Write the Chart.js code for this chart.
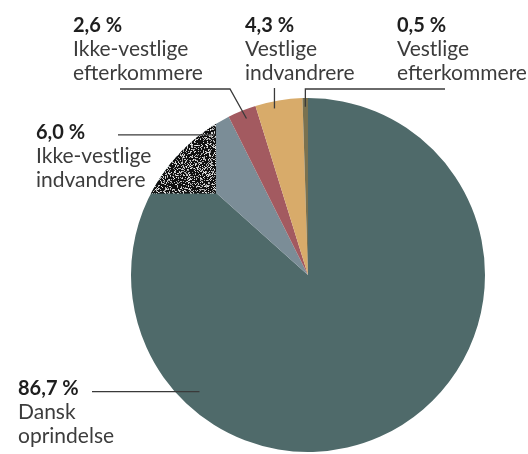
<!DOCTYPE html>
<html>
<head>
<meta charset="utf-8">
<script src="https://cdn.jsdelivr.net/npm/chart.js@4/dist/chart.umd.min.js"></script>
<style>
  body { margin: 0; background: #fff; }
  #wrap { width: 528px; height: 454px; }
</style>
</head>
<body>
<div id="wrap"><canvas id="chart" width="528" height="454"></canvas></div>
<script>
// andele af befolkningen, med uret fra toppen
const groups = ['Dansk oprindelse', 'Ikke-vestlige indvandrere', 'Ikke-vestlige efterkommere', 'Vestlige indvandrere', 'Vestlige efterkommere'];
const shares = [86.7, 6.0, 2.6, 4.3, 0.5];
const shareText = ['86,7 %', '6,0 %', '2,6 %', '4,3 %', '0,5 %'];
const labelLines = [
    ['Dansk', 'oprindelse'],
    ['Ikke-vestlige', 'indvandrere'],
    ['Ikke-vestlige', 'efterkommere'],
    ['Vestlige', 'indvandrere'],
    ['Vestlige', 'efterkommere']
];
const colors = ['#4f6a6a', '#7b8d97', '#a35a60', '#d8ab6a', '#7a7250'];

// placering af tekster og streger (layout, ikke data)
const labelPos = [
    {x: 18, y: 395},
    {x: 36, y: 139},
    {x: 73, y: 32},
    {x: 245, y: 32},
    {x: 397, y: 32}
];
// frac = hvor i skiven stregen ender, rf = andel af radius
const leaders = [
    {frac: 0.715, rf: 0.9, path: e => [[92, e.y], [e.x, e.y]]},
    {frac: 0.68, rf: 0.95, path: e => [[118, e.y], [e.x, e.y]]},
    {frac: 0.55, rf: 0.95, path: e => [[120, 89], [230, 89], [e.x, e.y]]},
    {frac: 0.38, rf: 0.96, path: e => [[e.x, 88], [e.x, e.y]]},
    {frac: 0.5, rf: 0.95, path: e => [[445, 89], [e.x, 89], [e.x, e.y]]}
];

function makeStipple() {
    const c = document.createElement('canvas');
    c.width = 64; c.height = 64;
    const g = c.getContext('2d');
    g.fillStyle = '#111';
    g.fillRect(0, 0, 64, 64);
    for (let i = 0; i < 64; i++) {
        for (let j = 0; j < 64; j++) {
            const h = Math.sin(i * 12.9898 + j * 78.233) * 43758.5453;
            const f = h - Math.floor(h);
            if (f > 0.66) {
                const v = Math.round(140 + (f - 0.66) * 300);
                g.fillStyle = `rgb(${v},${v},${v})`;
                g.fillRect(i, j, 1, 1);
            }
        }
    }
    return c;
}

const stipplePlugin = {
    id: 'stipple',
    afterDatasetsDraw(chart) {
        const arc = chart.getDatasetMeta(0).data[0];
        const {x, y, outerRadius: r} = arc;
        const ctx = chart.ctx;
        ctx.save();
        ctx.beginPath();
        ctx.arc(x, y, r, 0, Math.PI * 2);
        ctx.clip();
        ctx.fillStyle = ctx.createPattern(makeStipple(), 'repeat');
        ctx.fillRect(x - r, y - r, r * 0.48, r * 0.54);
        ctx.restore();
    }
};

const labelPlugin = {
    id: 'leaderLabels',
    afterDraw(chart) {
        const ctx = chart.ctx;
        const arcs = chart.getDatasetMeta(0).data;
        ctx.save();
        arcs.forEach((arc, i) => {
            const L = leaders[i];
            const a = arc.startAngle + (arc.endAngle - arc.startAngle) * L.frac;
            const e = {x: arc.x + Math.cos(a) * arc.outerRadius * L.rf, y: arc.y + Math.sin(a) * arc.outerRadius * L.rf};
            const pts = L.path(e);
            ctx.strokeStyle = '#3a3a3a';
            ctx.lineWidth = 1.3;
            ctx.beginPath();
            pts.forEach((p, k) => k ? ctx.lineTo(p[0], p[1]) : ctx.moveTo(p[0], p[1]));
            ctx.stroke();

            const pos = labelPos[i];
            ctx.textBaseline = 'alphabetic';
            ctx.textAlign = 'left';
            ctx.fillStyle = '#1e1e1e';
            ctx.font = 'bold 20px Lato';
            ctx.fillText(shareText[i], pos.x, pos.y);
            ctx.fillStyle = '#3c3c3c';
            ctx.font = '21px Lato';
            labelLines[i].forEach((t, k) => ctx.fillText(t, pos.x, pos.y + 24 + k * 24));
        });
        ctx.restore();
    }
};

new Chart(document.getElementById('chart'), {
    type: 'pie',
    data: {
        labels: groups,
        datasets: [{data: shares, backgroundColor: colors, borderWidth: 0}]
    },
    options: {
        responsive: false,
        animation: false,
        layout: {padding: {left: 131, right: 43, top: 98, bottom: 2}},
        plugins: {legend: {display: false}, tooltip: {enabled: false}}
    },
    plugins: [stipplePlugin, labelPlugin]
});
</script>
</body>
</html>
